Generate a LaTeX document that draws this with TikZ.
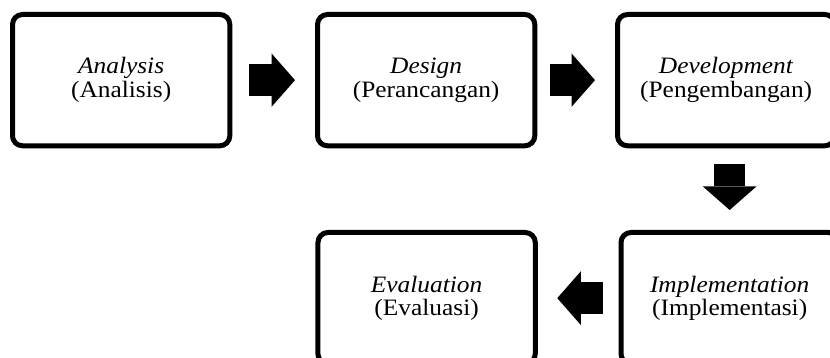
\documentclass[tikz,border=0pt]{standalone}
\usepackage{fontspec}
\setmainfont{Liberation Serif}[FakeStretch=1.08]
\usetikzlibrary{arrows.meta}
\tikzset{
  stage/.style={draw=black, line width=5pt, rounded corners=10pt,
    minimum width=217.3pt, minimum height=131.3pt, outer sep=0pt,
    align=center, inner sep=0pt,
    font=\fontsize{23.5pt}{23.6pt}\selectfont},
  flow/.style={line width=31.5pt, draw=black,
    -{Triangle[length=23.5pt, width=53.5pt, line width=0pt]}}
}
\begin{document}
\begin{tikzpicture}[x=1pt, y=-1pt]
\useasboundingbox (0,0) rectangle (830,358);
\clip (0,0) rectangle (830,358);
\node[stage] (ana) at (121.15,80.15) {\textit{Analysis}\\(Analisis)};
\node[stage] (des) at (426.15,80.15) {\textit{Design}\\(Perancangan)};
\node[stage] (dev) at (726.15,80.15) {\textit{Development}\\(Pengembangan)};
\node[stage] (imp) at (729.65,298.15) {\textit{Implementation}\\(Implementasi)};
\node[stage] (eva) at (426.6,298.15) {\textit{Evaluation}\\(Evaluasi)};
\draw[flow, shorten <=19.2pt, shorten >=22.5pt] (ana.east) -- (des.west);
\draw[flow, shorten <=15.5pt, shorten >=22.5pt] (des.east) -- (dev.west);
\draw[flow, shorten <=18.5pt, shorten >=22.5pt] (dev.south -| imp.north) -- (imp.north);
\draw[flow, shorten <=18.3pt, shorten >=22pt] (imp.west) -- (eva.east);
\end{tikzpicture}
\end{document}
